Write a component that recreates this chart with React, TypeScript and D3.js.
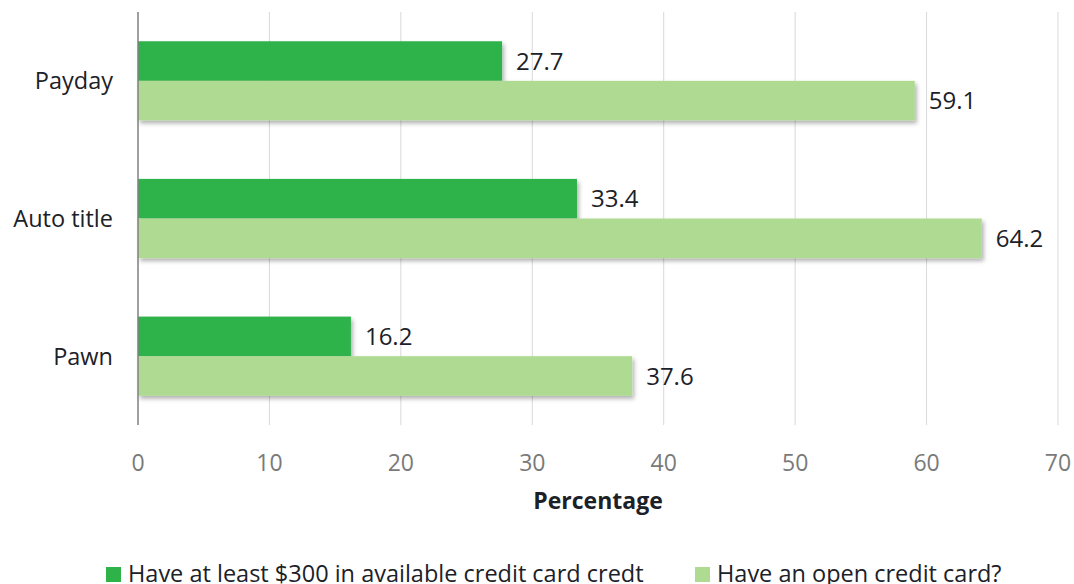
import React from "react";
import * as d3 from "d3";

const categories = ["Payday", "Auto title", "Pawn"];
const seriesNames = ["Have at least $300 in available credit card credt", "Have an open credit card?"];
const seriesA = [27.7, 33.4, 16.2];
const seriesB = [59.1, 64.2, 37.6];
const xTicks = [0, 10, 20, 30, 40, 50, 60, 70];
const colors = ["#2eb34b", "#aedb91"];

const W = 1074, H = 584;
const margin = { left: 138, right: 16, top: 12, bottom: 159 };
const FONT = "'Open Sans', 'Noto Sans', sans-serif";
const TXT = "#1c2128";

export default function App() {
  const x = d3.scaleLinear().domain([0, 70]).range([margin.left, W - margin.right]);
  const y = d3.scaleBand().domain(categories).range([margin.top, H - margin.bottom]).paddingInner(0.425).paddingOuter(0.2125);
  const inner = d3.scaleBand().domain(["a", "b"]).range([0, y.bandwidth()]);
  const series = [seriesA, seriesB];
  const plotBottom = H - margin.bottom;
  return (
    <svg width={W} height={H} style={{ position: "absolute", left: 0, top: 0, background: "#fff" }}>
      <defs>
        <filter id="sh" x="-5%" y="-20%" width="115%" height="160%">
          <feDropShadow dx="2" dy="3" stdDeviation="2" floodColor="#000" floodOpacity="0.3" />
        </filter>
      </defs>
      {xTicks.slice(1).map(t => (
        <line key={t} x1={x(t)} x2={x(t)} y1={margin.top} y2={plotBottom} stroke="#d9d9d9" strokeWidth={1} />
      ))}
      {categories.map((c, i) => (
        <g key={c}>
          {series.map((s, j) => {
            const y0 = (y(c) as number) + (inner(j === 0 ? "a" : "b") as number);
            return (
              <g key={j}>
                <rect x={x(0)} y={y0} width={x(s[i]) - x(0)} height={inner.bandwidth()} fill={colors[j]} filter="url(#sh)" />
                <text x={x(s[i]) + 14} y={y0 + inner.bandwidth() / 2} dy="0.36em" fontFamily={FONT} fontSize={24} fill={TXT}>
                  {s[i].toFixed(1)}
                </text>
              </g>
            );
          })}
          <text x={113} y={(y(c) as number) + y.bandwidth() / 2} dy="0.36em" textAnchor="end" fontFamily={FONT} fontSize={23.5} fill={TXT}>
            {c}
          </text>
        </g>
      ))}
      <line x1={x(0)} x2={x(0)} y1={margin.top} y2={plotBottom} stroke="#7f7f7f" strokeWidth={1.5} />
      {xTicks.map(t => (
        <text key={t} x={x(t)} y={471} textAnchor="middle" fontFamily={FONT} fontSize={23} fill="#7a7a7a">
          {t}
        </text>
      ))}
      <text x={(x(0) + x(70)) / 2} y={509} textAnchor="middle" fontFamily={FONT} fontSize={23} fontWeight="bold" fill={TXT}>
        Percentage
      </text>
      {seriesNames.map((n, j) => {
        const lx = j === 0 ? 106 : 695;
        return (
          <g key={n}>
            <rect x={lx} y={567} width={15} height={15} fill={colors[j]} />
            <text x={lx + 22} y={582} fontFamily={FONT} fontSize={23.5} fill={TXT}>
              {n}
            </text>
          </g>
        );
      })}
    </svg>
  );
}
